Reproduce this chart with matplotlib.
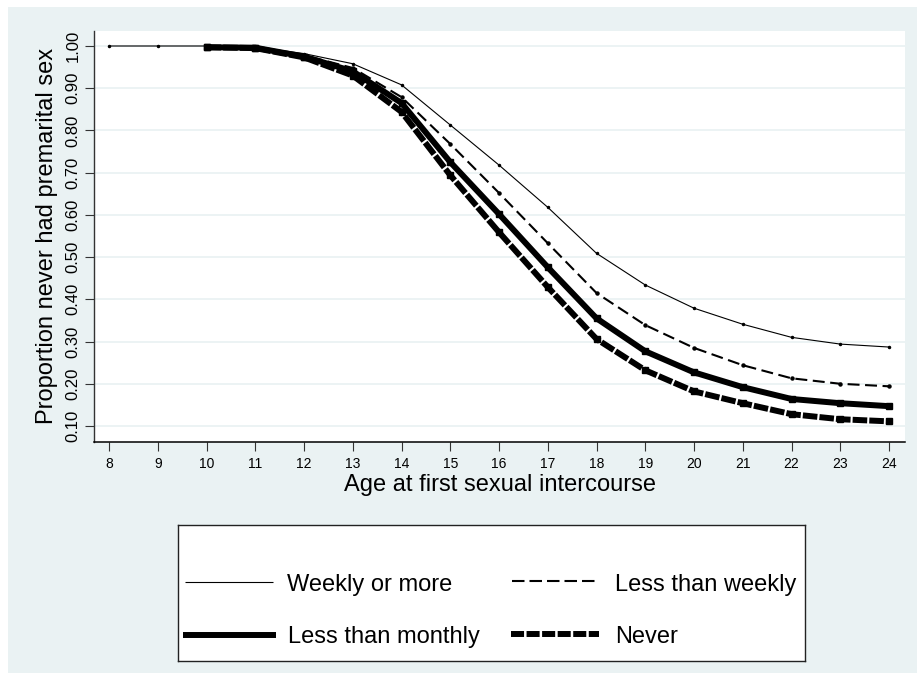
import matplotlib
matplotlib.use("Agg")
import matplotlib.pyplot as plt

plt.rcParams['font.family'] = ['Liberation Sans', 'DejaVu Sans']
plt.rcParams['lines.scale_dashes'] = False

# ---- data ----
ages_weekly = [8, 9, 10, 11, 12, 13, 14, 15, 16, 17, 18, 19, 20, 21, 22, 23, 24]
weekly = [1.000, 1.000, 1.000, 0.998, 0.982, 0.958, 0.908, 0.813, 0.718, 0.618,
          0.509, 0.434, 0.379, 0.341, 0.310, 0.294, 0.287]

ages = [10, 11, 12, 13, 14, 15, 16, 17, 18, 19, 20, 21, 22, 23, 24]
less_weekly = [0.998, 0.996, 0.978, 0.948, 0.879, 0.768, 0.652, 0.533, 0.415,
               0.339, 0.285, 0.244, 0.213, 0.200, 0.194]
less_monthly = [0.997, 0.996, 0.975, 0.940, 0.865, 0.725, 0.602, 0.476, 0.355,
                0.277, 0.227, 0.192, 0.164, 0.154, 0.147]
never = [0.997, 0.995, 0.973, 0.930, 0.844, 0.694, 0.559, 0.429, 0.306,
         0.232, 0.182, 0.154, 0.128, 0.116, 0.111]

labels = ["Weekly or more", "Less than weekly", "Less than monthly", "Never"]
xticks = list(range(8, 25))
yticks = [0.10, 0.20, 0.30, 0.40, 0.50, 0.60, 0.70, 0.80, 0.90, 1.00]

W, H = 917, 673
BG = '#EAF2F3'

fig = plt.figure(figsize=(W / 100, H / 100), dpi=100, facecolor='white')
bgax = fig.add_axes([8 / W, 0, (W - 8) / W, (H - 7) / H], zorder=-10)
bgax.set_facecolor(BG)
bgax.set_xticks([])
bgax.set_yticks([])
for s in bgax.spines.values():
    s.set_visible(False)

L, R, T, B = 94, 905, 31, 442
ax = fig.add_axes([L / W, 1 - B / H, (R - L) / W, (B - T) / H], zorder=1)
ax.set_facecolor('white')

styles = [
    dict(color='black', lw=0.8, ls='-', marker='o', ms=1.5),
    dict(color='black', lw=1.5, dashes=(8.6, 4.0), marker='o', ms=2.2),
    dict(color='black', lw=4.3, ls='-', marker='s', ms=4.0),
    dict(color='black', lw=4.3, dashes=(10.5, 1.5), marker='s', ms=4.0),
]
series = [(ages_weekly, weekly), (ages, less_weekly), (ages, less_monthly), (ages, never)]
for (xs, ys), st, lab in zip(series, styles, labels):
    ax.plot(xs, ys, label=lab, solid_capstyle='butt', dash_capstyle='butt', **st)

ax.set_xlim(8 - 15 / 48.75, 24 + 16 / 48.75)
ax.set_ylim(0.10 - 16 / 422.2, 1.00 + 15 / 422.2)

ax.set_xticks(xticks)
ax.set_xticklabels([str(x) for x in xticks], fontsize=10)
ax.set_yticks(yticks)
ax.set_yticklabels(["%.2f" % y for y in yticks], rotation=90, va='center', fontsize=12)

ax.yaxis.grid(True, color=BG, lw=1.3)
ax.set_axisbelow(True)
for s in ['top', 'right']:
    ax.spines[s].set_visible(False)
ax.spines['left'].set_color('#333333')
ax.spines['bottom'].set_color('black')
ax.spines['left'].set_linewidth(1.0)
ax.spines['bottom'].set_linewidth(1.1)
ax.tick_params(axis='x', direction='out', length=6.5, width=0.8, color='#333333', pad=4)
ax.tick_params(axis='y', direction='out', length=6.5, width=0.8, color='#333333', pad=3)

# axis titles
fig.text((L + R) / 2 / W, 1 - 491 / H, "Age at first sexual intercourse",
         ha='center', va='baseline', fontsize=17)
fig.text(53 / W, 1 - 236 / H, "Proportion never had premarital sex",
         rotation=90, rotation_mode='anchor', ha='center', va='baseline', fontsize=17)

# legend (drawn in pixel coordinates)
lx0, lx1, ly0, ly1 = 178, 805, 525, 661
lax = fig.add_axes([lx0 / W, 1 - ly1 / H, (lx1 - lx0) / W, (ly1 - ly0) / H], zorder=1)
lax.set_xlim(lx0, lx1)
lax.set_ylim(ly1, ly0)
lax.set_facecolor('white')
lax.set_xticks([])
lax.set_yticks([])
for s in lax.spines.values():
    s.set_color('#222222')
    s.set_linewidth(1.0)

leg_dashes = [None, (9.0, 3.6), None, (9.4, 1.8)]
leg_items = [
    (185, 273, 582, 287, 591, styles[0]),
    (512, 598, 581, 615, 591, styles[1]),
    (183, 276, 635, 288, 643, styles[2]),
    (511, 599, 634, 615, 643, styles[3]),
]
for (hx0, hx1, hy, tx, ty, st), lab, dd in zip(leg_items, labels, leg_dashes):
    st2 = {k: v for k, v in st.items() if k not in ('marker', 'ms')}
    if dd is not None:
        st2['dashes'] = dd
    lax.plot([hx0, hx1], [hy, hy], solid_capstyle='butt', dash_capstyle='butt', **st2)
    lax.text(tx, ty, lab, ha='left', va='baseline', fontsize=17)

fig.savefig("out.png", dpi=100, facecolor='white')
